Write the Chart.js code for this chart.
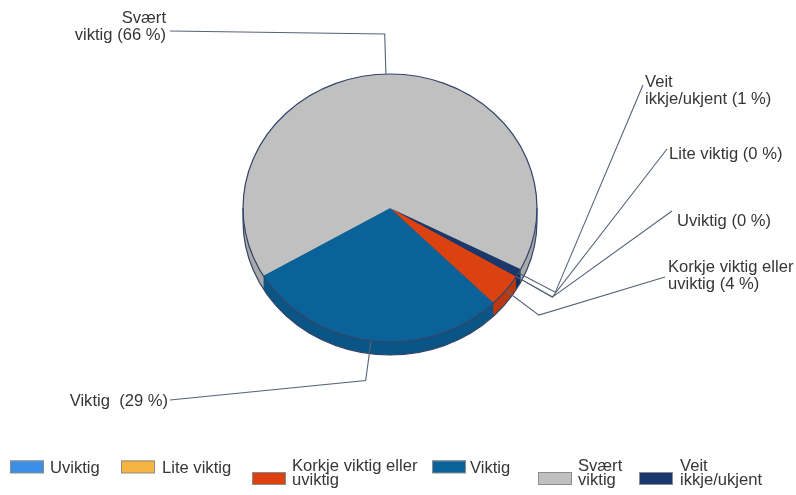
<!DOCTYPE html>
<html>
<head>
<meta charset="utf-8">
<script src="https://cdn.jsdelivr.net/npm/chart.js@4.4.1/dist/chart.umd.min.js"></script>
<style>
  html, body { margin: 0; padding: 0; background: #fff; }
  canvas { display: block; }
</style>
</head>
<body>
<canvas id="pieChart" width="796" height="495"></canvas>
<script>
// --- Data ---
const categories = ['Uviktig', 'Lite viktig', 'Korkje viktig eller uviktig', 'Viktig', 'Svært viktig', 'Veit ikkje/ukjent'];
const percents   = [0, 0, 4, 29, 66, 1];
const topColors  = ['#3d8ee6', '#f6b33f', '#dc4210', '#0a6298', '#c0c0c0', '#1a386c'];
const sideColors = ['#3479c6', '#d69a33', '#bd380e', '#0a5686', '#a9a9a9', '#152f5c'];

// --- Look ---
const FONT = '16.6px "Liberation Sans", Arial, sans-serif';
const TEXT = '#363636';
const TILT = 134 / 147;   // vertical squash of the pie
const DEPTH = 13;         // height of the side wall
const RIM = '#33456a';
const LEADER = '#566379';

// label placement: text anchor, alignment, where the leader stops, line breaks
const labelLayout = [
    { x: 677, y: 226, align: 'left',  end: [672, 211] },
    { x: 669, y: 159, align: 'left',  end: [667, 149] },
    { x: 668, y: 272, align: 'left',  end: [665, 277], breakAfter: 3 },
    { x: 168, y: 406, align: 'right', end: [170, 400], sep: '  ' },
    { x: 166, y: 23,  align: 'right', end: [170, 31],  breakAfter: 1 },
    { x: 645, y: 87,  align: 'left',  end: [643, 85],  breakAfter: 1 }
];

// legend placement: box left, text left, break after n words
const legendLayout = [
    { box: 10,  text: 50,  breakAfter: 0 },
    { box: 121, text: 162, breakAfter: 0 },
    { box: 252, text: 292, breakAfter: 3 },
    { box: 432, text: 470, breakAfter: 0 },
    { box: 538, text: 578, breakAfter: 1 },
    { box: 639, text: 680, breakAfter: 1 }
];

function splitLines(str, breakAfter) {
    if (!breakAfter) return [str];
    const words = str.split(' ');
    return [words.slice(0, breakAfter).join(' '), words.slice(breakAfter).join(' ')];
}

// --- 3D pie: side wall below, squashed top face, rim outline ---
const pie3d = {
    id: 'pie3d',
    beforeDatasetsDraw(chart) {
        const ctx = chart.ctx;
        const arcs = chart.getDatasetMeta(0).data;
        const cx = arcs[0].x, cy = arcs[0].y;

        for (let k = DEPTH; k >= 1; k--) {
            ctx.save();
            ctx.translate(cx, cy + k);
            ctx.scale(1, TILT);
            arcs.forEach((a, i) => {
                if (a.endAngle - a.startAngle <= 0) return;
                ctx.beginPath();
                ctx.moveTo(0, 0);
                ctx.arc(0, 0, a.outerRadius, a.startAngle, a.endAngle);
                ctx.closePath();
                ctx.fillStyle = sideColors[i];
                ctx.fill();
            });
            ctx.restore();
        }

        // top face gets drawn by the library inside this transform
        ctx.save();
        ctx.translate(cx, cy);
        ctx.scale(1, TILT);
        ctx.translate(-cx, -cy);
    },
    afterDatasetsDraw(chart) {
        const ctx = chart.ctx;
        ctx.restore();

        const arcs = chart.getDatasetMeta(0).data;
        const cx = arcs[0].x, cy = arcs[0].y;
        const R = arcs[0].outerRadius;
        const ry = R * TILT;

        ctx.save();
        ctx.strokeStyle = RIM;
        ctx.lineWidth = 1.2;
        ctx.beginPath();
        ctx.ellipse(cx, cy, R, ry, 0, 0, Math.PI * 2);
        ctx.stroke();
        ctx.beginPath();
        ctx.ellipse(cx, cy + DEPTH, R, ry, 0, 0, Math.PI);
        ctx.stroke();
        ctx.beginPath();
        ctx.moveTo(cx - R, cy); ctx.lineTo(cx - R, cy + DEPTH);
        ctx.moveTo(cx + R, cy); ctx.lineTo(cx + R, cy + DEPTH);
        ctx.stroke();

        // leader lines and value labels
        ctx.font = FONT;
        ctx.fillStyle = TEXT;
        arcs.forEach((a, i) => {
            const mid = (a.startAngle + a.endAngle) / 2;
            const ax = cx + R * Math.cos(mid);
            const ay = cy + ry * Math.sin(mid);
            const ex = ax + 42 * Math.cos(mid);
            const ey = ay + 40 * Math.sin(mid);
            const lay = labelLayout[i];

            ctx.strokeStyle = LEADER;
            ctx.lineWidth = 1.1;
            ctx.beginPath();
            ctx.moveTo(ax, ay);
            ctx.lineTo(ex, ey);
            ctx.lineTo(lay.end[0], lay.end[1]);
            ctx.stroke();

            const txt = categories[i] + (lay.sep || ' ') + '(' + percents[i] + ' %)';
            const lines = splitLines(txt, lay.breakAfter);
            ctx.textAlign = lay.align;
            ctx.textBaseline = 'alphabetic';
            lines.forEach((ln, j) => ctx.fillText(ln, lay.x, lay.y + j * 16.5));
        });

        // legend
        categories.forEach((name, i) => {
            const lay = legendLayout[i];
            const lines = splitLines(name, lay.breakAfter);
            const base = lines.length > 1 ? 471 : 473;
            const lastBase = base + (lines.length - 1) * 13.5;
            ctx.fillStyle = topColors[i];
            ctx.fillRect(lay.box, lastBase - 12.5, 34, 12.5);
            ctx.strokeStyle = '#8c8c8c';
            ctx.lineWidth = 1;
            ctx.strokeRect(lay.box + 0.5, lastBase - 12.5 + 0.5, 33, 12);
            ctx.fillStyle = TEXT;
            ctx.textAlign = 'left';
            lines.forEach((ln, j) => ctx.fillText(ln, lay.text, base + j * 13.5));
        });
        ctx.restore();
    }
};

// --- Chart Setup ---
const ctxPie = document.getElementById('pieChart').getContext('2d');
const pieChart = new Chart(ctxPie, {
    type: 'pie',
    data: {
        labels: categories,
        datasets: [{
            data: percents,
            backgroundColor: topColors,
            borderWidth: 0,
            hoverOffset: 0,
            clip: false
        }]
    },
    options: {
        responsive: false,
        animation: false,
        rotation: 120.8,
        layout: { padding: { left: 243, right: 259, top: 61, bottom: 140 } },
        plugins: {
            legend: { display: false },
            tooltip: { enabled: false }
        }
    },
    plugins: [pie3d]
});
</script>
</body>
</html>
